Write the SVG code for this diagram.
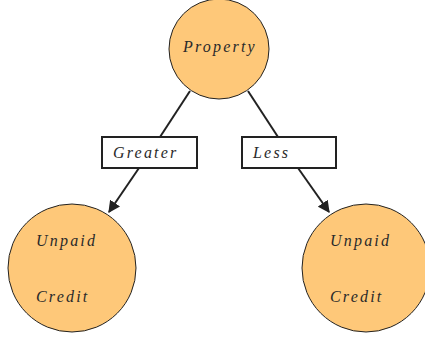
<svg xmlns="http://www.w3.org/2000/svg" width="425" height="338" viewBox="0 0 425 338">
<defs>
<style>
.n{fill:#FEC879;stroke:#222;stroke-width:1}
.b{fill:#fff;stroke:#222;stroke-width:2}
.t{font-family:"Liberation Serif",serif;font-style:italic;font-size:16px;letter-spacing:2.2px;fill:#2a2a2a}
.e{stroke:#222;stroke-width:2;fill:none}
</style>
<marker id="ah" viewBox="0 0 10 10" refX="9" refY="5" markerWidth="6" markerHeight="6" orient="auto" markerUnits="strokeWidth"><path d="M0,0 L10,5 L0,10 z" fill="#222"/></marker>
</defs>
<rect width="425" height="338" fill="#fff"/>
<g id="edges">
<line class="e" x1="190" y1="91" x2="160" y2="137"/>
<line class="e" x1="248" y1="91" x2="278" y2="137"/>
<line class="e" x1="139" y1="168" x2="109" y2="212" marker-end="url(#ah)"/>
<line class="e" x1="298" y1="168" x2="329" y2="212" marker-end="url(#ah)"/>
</g>
<g id="property"><circle class="n" cx="219" cy="49" r="50"/><text class="t" x="183" y="52">Property</text></g>
<g id="greater"><rect class="b" x="102" y="137" width="95" height="31"/><text class="t" x="113" y="158">Greater</text></g>
<g id="less"><rect class="b" x="242" y="137" width="94" height="31"/><text class="t" x="253" y="158">Less</text></g>
<g id="unpaid1"><circle class="n" cx="72" cy="268" r="64"/><text class="t" x="36" y="246">Unpaid</text><text class="t" x="36" y="302">Credit</text></g>
<g id="unpaid2"><circle class="n" cx="366" cy="268" r="64"/><text class="t" x="330" y="246">Unpaid</text><text class="t" x="330" y="302">Credit</text></g>
</svg>
